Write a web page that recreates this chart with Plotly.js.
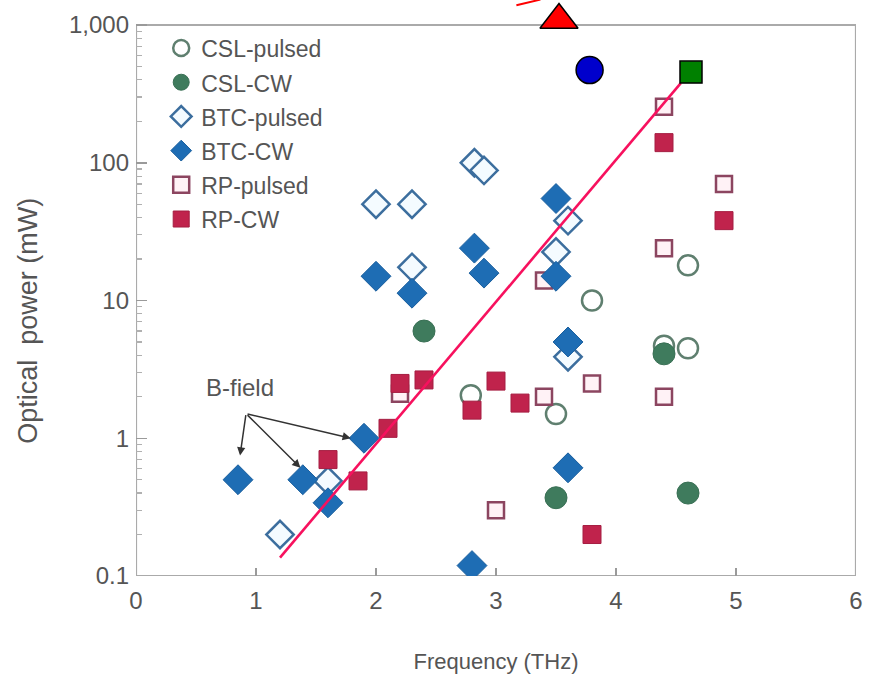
<!DOCTYPE html>
<html>
<head>
<meta charset="utf-8">
<script src="https://cdn.plot.ly/plotly-3.0.1.min.js"></script>
<style>html,body{margin:0;padding:0;background:#fff;}</style>
</head>
<body>
<div id="chart" style="width:877px;height:682px;"></div>
<script>
// ---- data ----
const seriesNames = ['CSL-pulsed', 'CSL-CW', 'BTC-pulsed', 'BTC-CW', 'RP-pulsed', 'RP-CW'];

const cslPulsedX = [2.79, 3.5, 3.8, 4.6, 4.6, 4.4];
const cslPulsedY = [2.05, 1.5, 10, 18, 4.5, 4.7];

const cslCwX = [2.4, 3.5, 4.6, 4.4];
const cslCwY = [6.0, 0.37, 0.40, 4.1];

const btcPulsedX = [1.2, 1.6, 2.0, 2.3, 2.3, 2.82, 2.9, 3.6, 3.5, 3.6];
const btcPulsedY = [0.2, 0.49, 50, 50, 17.4, 100, 88, 38, 22.5, 3.9];

const btcCwX = [0.85, 1.39, 1.6, 1.9, 2.0, 2.3, 2.82, 2.9, 3.5, 3.5, 3.6, 3.6, 2.8];
const btcCwY = [0.5, 0.5, 0.34, 1.0, 15, 11.3, 24, 15.8, 55, 15, 5.0, 0.61, 0.119];

const rpPulsedX = [2.2, 3.0, 3.4, 3.8, 4.4, 4.4, 4.4, 4.9, 3.4];
const rpPulsedY = [2.1, 0.30, 2.0, 2.5, 255, 24, 2.0, 70, 14];

const rpCwX = [1.6, 1.85, 2.1, 2.2, 2.4, 2.8, 3.0, 3.2, 3.8, 4.4, 4.9];
const rpCwY = [0.7, 0.49, 1.18, 2.5, 2.65, 1.6, 2.6, 1.8, 0.2, 140, 38];

// overlay drawn on top of the figure
const trendX = [1.2, 4.54];
const trendY = [0.136, 379];
const redStrokeX = [3.17, 3.37];
const redStrokeY = [1390, 1530];
const triangleX = [3.525];
const triangleY = [1087];
const circleX = [3.78];
const circleY = [471];
const squareX = [4.625];
const squareY = [455];

// B-field annotation
const bTextX = 0.867, bTextY = 2.34;
const bTailX = 0.917, bTailY = 1.51;
const bHeadX = [0.867, 1.37, 1.79];
const bHeadY = [0.75, 0.61, 1.0];

const xRange = [0, 6];
const yFrame = [0.1, 1000];          // framed data area
const yTop = 1519;                   // extra head-room above the frame (for the overlay marks)
const xTickVals = [0, 1, 2, 3, 4, 5, 6];
const xTickText = ['0', '1', '2', '3', '4', '5', '6'];
const yTickVals = [0.1, 1, 10, 100, 1000];
const yTickText = ['0.1', '1', '10', '100', '1,000'];

// ---- styling ----
const FONT = '"Liberation Sans", Arial, sans-serif';
const TXT = '#555555';

function legName(n) { return '<span style="font-size:23px">' + n + '</span>'; }

const yMinor = [];
for (let d = -1; d < 3; d++) {
  for (let k = 2; k <= 9; k++) yMinor.push(k * Math.pow(10, d));
}

const traces = [
  { name: legName(seriesNames[0]), legendrank: 1, x: cslPulsedX, y: cslPulsedY, type: 'scatter', mode: 'markers',
    marker: { symbol: 'circle', size: 20, color: '#ffffff', line: { color: '#5f7f6f', width: 2.5 } } },
  { name: legName(seriesNames[4]), legendrank: 5, x: rpPulsedX, y: rpPulsedY, type: 'scatter', mode: 'markers',
    marker: { symbol: 'square', size: 16, color: '#fff2f6', line: { color: '#8c4560', width: 2.5 } } },
  { name: legName(seriesNames[2]), legendrank: 3, x: btcPulsedX, y: btcPulsedY, type: 'scatter', mode: 'markers',
    marker: { symbol: 'diamond', size: 21, color: '#f4fbff', line: { color: '#3c6e9e', width: 2.5 } } },
  { name: legName(seriesNames[1]), legendrank: 2, x: cslCwX, y: cslCwY, type: 'scatter', mode: 'markers',
    marker: { symbol: 'circle', size: 22, color: '#3f7b5d', line: { color: '#3a7055', width: 1 } } },
  { name: legName(seriesNames[5]), legendrank: 6, x: rpCwX, y: rpCwY, type: 'scatter', mode: 'markers',
    marker: { symbol: 'square', size: 18, color: '#c0234c', line: { color: '#a51e42', width: 1 } } },
  { name: legName(seriesNames[3]), legendrank: 4, x: btcCwX, y: btcCwY, type: 'scatter', mode: 'markers',
    marker: { symbol: 'diamond', size: 23, color: '#1e6db4', line: { color: '#1a5f9e', width: 1 } } },
  { x: trendX, y: trendY, type: 'scatter', mode: 'lines', showlegend: false, hoverinfo: 'skip',
    line: { color: '#f7115e', width: 2.6 } },
  { x: redStrokeX, y: redStrokeY, type: 'scatter', mode: 'lines', showlegend: false, hoverinfo: 'skip',
    line: { color: '#ff0000', width: 2 } },
  { x: triangleX, y: triangleY, type: 'scatter', mode: 'markers', showlegend: false,
    marker: { symbol: 'triangle-up', size: 33, color: '#ff0000', line: { color: '#000000', width: 1.5 } } },
  { x: circleX, y: circleY, type: 'scatter', mode: 'markers', showlegend: false,
    marker: { symbol: 'circle', size: 27, color: '#0000cc', line: { color: '#000000', width: 1.5 } } },
  { x: squareX, y: squareY, type: 'scatter', mode: 'markers', showlegend: false,
    marker: { symbol: 'square', size: 22, color: '#008000', line: { color: '#000000', width: 1.5 } } }
];

const annotations = [
  { x: bTextX, y: Math.log10(bTextY), xref: 'x', yref: 'y', text: 'B-field', showarrow: false,
    font: { family: FONT, size: 24, color: TXT } },
  { x: -0.15, y: 0.443, xref: 'paper', yref: 'paper', text: 'Optical&nbsp; power (mW)', textangle: -90,
    showarrow: false, xanchor: 'center', yanchor: 'middle',
    font: { family: FONT, size: 27, color: TXT } }
];
for (let i = 0; i < bHeadX.length; i++) {
  annotations.push({
    x: bHeadX[i], y: Math.log10(bHeadY[i]), xref: 'x', yref: 'y',
    ax: bTailX, ay: Math.log10(bTailY), axref: 'x', ayref: 'y',
    text: '', showarrow: true, arrowhead: 2, arrowsize: 1.1, arrowwidth: 1.5, arrowcolor: '#333333'
  });
}

const layout = {
  width: 877, height: 682,
  margin: { l: 136, r: 21, t: 0, b: 106 },
  paper_bgcolor: '#ffffff', plot_bgcolor: '#ffffff',
  font: { family: FONT, color: TXT },
  showlegend: true,
  legend: {
    x: 0.035, xanchor: 'left', y: 0.955, yanchor: 'top',
    bgcolor: 'rgba(0,0,0,0)', borderwidth: 0,
    font: { family: FONT, size: 24, color: TXT }
  },
  xaxis: {
    range: xRange, tickmode: 'array', tickvals: xTickVals, ticktext: xTickText,
    ticks: 'inside', ticklen: 8, tickwidth: 1.5, tickcolor: '#9a9a9a',
    showline: false, showgrid: false, zeroline: false,
    tickfont: { family: FONT, size: 24, color: TXT }, ticklabelstandoff: 8,
    title: { text: 'Frequency (THz)', font: { family: FONT, size: 22, color: TXT }, standoff: 40 }
  },
  yaxis: {
    type: 'log', range: [Math.log10(yFrame[0]), Math.log10(yTop)], tickmode: 'array', tickvals: yTickVals, ticktext: yTickText,
    ticks: 'inside', ticklen: 11, tickwidth: 1.5, tickcolor: '#9a9a9a',
    minor: { tickmode: 'array', tickvals: yMinor, ticks: 'inside', ticklen: 6, tickwidth: 1.2, tickcolor: '#b0b0b0', showgrid: false },
    showline: false, showgrid: false, zeroline: false,
    tickfont: { family: FONT, size: 24, color: TXT }, ticklabelstandoff: 6
  },
  shapes: [
    { type: 'rect', xref: 'x', yref: 'y', layer: 'below',
      x0: xRange[0], x1: xRange[1], y0: yFrame[0], y1: yFrame[1],
      line: { color: '#aaaaaa', width: 2.2 }, fillcolor: 'rgba(0,0,0,0)' }
  ],
  annotations: annotations
};

Plotly.newPlot('chart', traces, layout, { displayModeBar: false, staticPlot: true });
</script>
</body>
</html>
